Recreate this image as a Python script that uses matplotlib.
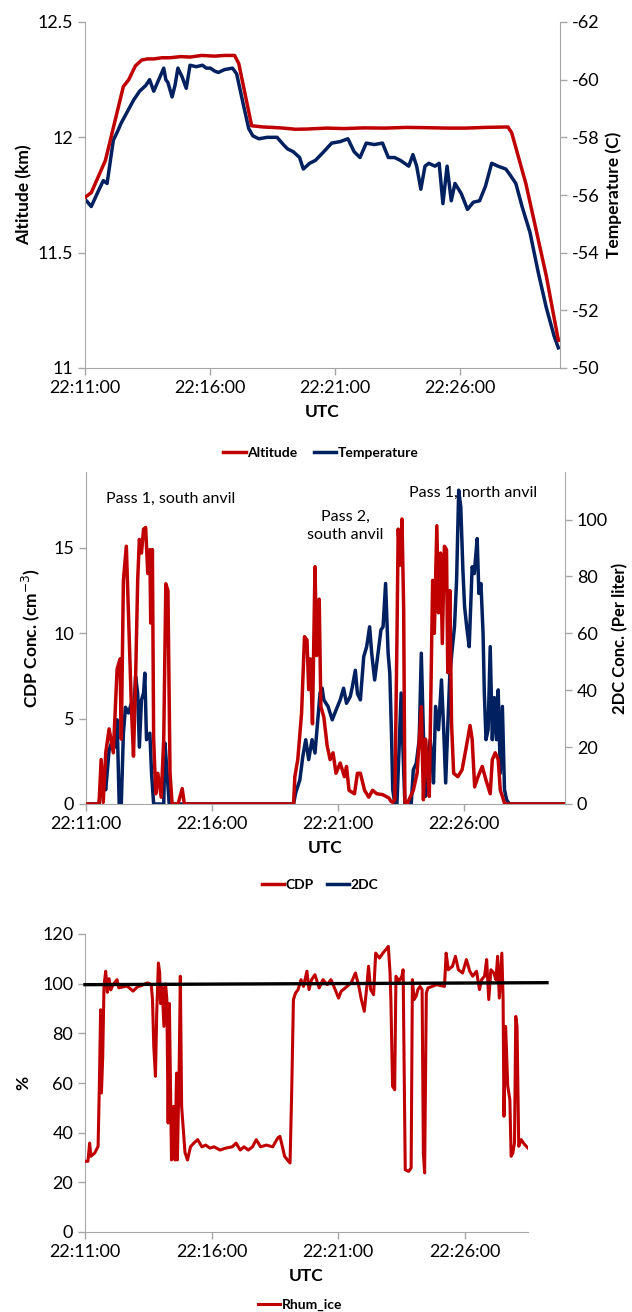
import matplotlib
matplotlib.use("Agg")
import matplotlib.pyplot as plt
import numpy as np

plt.rcParams['font.family'] = ['Lato', 'DejaVu Sans']
plt.rcParams['axes.unicode_minus'] = False

RED = '#C00000'
NAVY = '#002060'
GRID = '#A6A6A6'

# ---- time axis (seconds after 22:11:00) ----
tick_secs = [0, 300, 600, 900]
tick_labels = ['22:11:00', '22:16:00', '22:21:00', '22:26:00']

# ---- panel 1: altitude and temperature ----
alt_t = [0, 15, 49, 92, 105, 121, 136, 150, 165, 185, 204, 230, 252, 280, 311, 335, 359,
         369, 400, 412, 427, 450, 476, 505, 534, 580, 621, 670, 719, 770, 816, 870, 913,
         960, 1015, 1024, 1058, 1107, 1136, 1141]
alt_km = [11.74, 11.76, 11.90, 12.22, 12.25, 12.31, 12.335, 12.34, 12.34, 12.345, 12.345,
          12.35, 12.348, 12.355, 12.352, 12.355, 12.355,
          12.32, 12.05, 12.048, 12.045, 12.043, 12.04, 12.035, 12.036, 12.04, 12.038, 12.041,
          12.04, 12.043, 12.042, 12.04, 12.04, 12.043, 12.045, 12.02, 11.80, 11.40, 11.12, 11.12]

temp_t = [0, 15, 34, 44, 53, 68, 78, 87, 102, 117, 131, 146, 155, 165, 180, 189, 194, 199,
          209, 216, 223, 233, 243, 252, 267, 282, 291, 301, 311, 320, 335, 354, 364, 379,
          393, 403, 417, 437, 461, 476, 486, 500, 515, 524, 539, 553, 573, 592, 612, 631,
          646, 660, 675, 694, 714, 728, 743, 757, 777, 787, 796, 806, 816, 825, 840, 850,
          859, 869, 879, 888, 903, 918, 932, 947, 961, 976, 991, 1010, 1020, 1034, 1049,
          1068, 1088, 1107, 1126, 1136]
temp_c = [-55.86, -55.6, -56.2, -56.5, -56.4, -57.9, -58.2, -58.5, -58.9, -59.3, -59.6,
          -59.8, -60.0, -59.6, -60.1, -60.4, -60.0, -59.9, -59.4, -59.8, -60.4, -60.1,
          -59.7, -60.5, -60.45, -60.5, -60.4, -60.4, -60.3, -60.25, -60.35, -60.4, -60.2,
          -59.2, -58.3, -58.05, -57.95, -58.0, -58.0, -57.75, -57.6, -57.5, -57.3, -56.9,
          -57.1, -57.2, -57.5, -57.8, -57.85, -57.95, -57.5, -57.3, -57.8, -57.75, -57.8,
          -57.3, -57.3, -57.2, -57.0, -57.4, -57.0, -56.2, -57.0, -57.1, -57.0, -57.1,
          -55.7, -57.0, -55.8, -56.4, -56.05, -55.5, -55.75, -55.8, -56.3, -57.1, -57.0,
          -56.9, -56.7, -56.4, -55.6, -54.7, -53.3, -52.1, -51.1, -50.7]

# ---- panel 2: CDP and 2DC concentrations ----
cdp_t = [0, 31, 36, 41, 47, 55, 65, 74, 81, 84, 89, 96, 101, 108, 113, 118, 123, 127, 132,
         137, 142, 147, 152, 154, 158, 161, 166, 171, 179, 185, 190, 195, 200, 205, 219,
         229, 234, 494, 497, 504, 513, 520, 526, 530, 534, 539, 545, 549, 555, 559, 566,
         574, 581, 588, 595, 605, 615, 620, 626, 639, 646, 653, 663, 673, 682, 692, 706,
         721, 726, 730, 735, 740, 743, 748, 752, 756, 759, 764, 779, 788, 798, 803, 808,
         813, 817, 825, 829, 835, 839, 844, 848, 853, 858, 861, 866, 870, 875, 885, 895,
         904, 914, 919, 925, 933, 943, 952, 962, 967, 974, 981, 986, 991, 996, 1001, 1141]
cdp_conc = [0, 0, 2.6, 0.1, 3.0, 4.4, 3.0, 7.9, 8.5, 3.8, 13.1, 15.1, 11.2, 5.7, 2.8, 7.3,
            13.1, 15.5, 14.7, 16.1, 16.2, 13.5, 14.9, 10.6, 14.9, 3.8, 0.6, 1.8, 0.4, 3.8,
            12.9, 12.5, 1.8, 0, 0, 0.9, 0, 0, 1.6, 2.6, 5.3, 9.8, 9.6, 6.7, 8.5, 4.7, 13.9,
            8.7, 12.0, 5.7, 5.1, 3.4, 2.6, 3.0, 1.8, 2.4, 1.6, 2.2, 0.8, 0.6, 1.8, 1.8, 0.8,
            0.4, 0.8, 0.6, 0.55, 0.35, 0.15, 0.1, 0.25, 9.6, 16.1, 14.0, 16.7, 11.5, 0.1,
            0, 0.8, 1.8, 5.7, 0.25, 3.8, 1.8, 0.45, 13.1, 10.0, 16.3, 11.2, 14.7, 9.4, 15.1,
            14.9, 7.7, 12.5, 4.7, 1.8, 1.6, 2.0, 3.2, 4.6, 3.8, 1.0, 1.6, 2.2, 1.4, 0.6,
            2.6, 3.0, 2.6, 0.8, 0.45, 0.05, 0, 0]

p2dc_t = [0, 31, 36, 41, 47, 55, 63, 69, 74, 79, 84, 89, 94, 101, 108, 113, 118, 123, 127,
          132, 137, 140, 144, 152, 156, 161, 185, 188, 193, 198, 494, 499, 509, 516, 523,
          530, 538, 545, 549, 557, 562, 566, 576, 586, 595, 605, 613, 620, 629, 634, 641,
          646, 653, 661, 668, 675, 680, 687, 694, 702, 707, 713, 719, 723, 727, 730, 735,
          740, 745, 750, 756, 759, 774, 779, 786, 793, 798, 803, 808, 813, 819, 823, 827,
          832, 839, 846, 851, 856, 861, 866, 873, 877, 882, 887, 892, 897, 901, 906, 912,
          919, 924, 928, 931, 935, 940, 945, 948, 952, 957, 962, 967, 972, 977, 981, 986,
          991, 996, 1001, 1008, 1141]
p2dc_conc = [0, 0, 6.2, 8.5, 5.0, 19, 22.6, 20, 29.6, 0, 0, 24.9, 34, 32, 35.4, 30.7,
             44.8, 39, 20, 36.6, 39, 46, 22.6, 24.9, 10.8, 0, 0, 21.4, 10.8, 0, 0, 3.9, 8.5,
             16.7, 22.6, 15.6, 22.6, 17.9, 24.9, 39, 40.7, 36.6, 34.3, 29.6, 33, 36.6, 40.7,
             35.4, 37.8, 41.3, 47, 38.8, 36.6, 51.8, 55.3, 62.3, 52.9, 43.6, 51.8, 61.2,
             62.3, 77.5, 53, 46, 24.9, 5, 0, 0, 19, 39, 12, 0, 0, 12, 14.3, 22.6, 53, 24.9,
             2.7, 16.7, 22.6, 16.7, 7.4, 34.3, 26.1, 43.6, 27.2, 7.4, 27.2, 46, 56.5, 62.3,
             78.7, 110.3, 104.4, 82.2, 69.4, 62.3, 55.3, 83.4, 81, 88, 93.3, 74, 77.5, 60,
             39, 22.6, 26.1, 55.3, 22.6, 37.4, 22.6, 40.1, 10.8, 34.3, 5, 1.5, 0, 0]

pass_labels = ['Pass 1, south anvil', 'Pass 2,\nsouth anvil', 'Pass 1, north anvil']
pass_t = [202, 618, 921]
pass_cdp = [17.9, 16.3, 18.2]

# ---- panel 3: relative humidity with respect to ice ----
rh_t = [0, 7, 11, 14, 23, 31, 34, 37, 39, 42, 45, 49, 53, 57, 61, 66, 76, 80, 90, 100,
        114, 124, 133, 148, 157, 160, 163, 167, 170, 174, 177, 179, 183, 187, 191, 194,
        197, 200, 205, 210, 213, 217, 219, 223, 226, 229, 233, 237, 243, 250, 258, 267,
        277, 286, 296, 306, 320, 334, 349, 358, 368, 377, 387, 397, 406, 416, 430, 445,
        457, 462, 468, 473, 480, 486, 490, 494, 499, 505, 512, 518, 526, 531, 537, 545,
        555, 564, 574, 583, 593, 601, 607, 617, 631, 641, 649, 655, 662, 668, 672, 677,
        684, 689, 698, 706, 713, 719, 723, 725, 729, 734, 737, 744, 751, 754, 756, 759,
        767, 773, 776, 780, 785, 789, 794, 799, 802, 805, 809, 813, 823, 833, 844, 852,
        856, 861, 871, 878, 885, 895, 904, 912, 919, 928, 935, 940, 947, 952, 957, 962,
        969, 974, 978, 982, 988, 991, 993, 997, 1002, 1007, 1010, 1014, 1018, 1021, 1024,
        1028, 1034, 1041, 1050]
rh_ice = [28.5, 28.5, 35.8, 30.5, 31.8, 34.5, 58.7, 89.5, 56, 70.7, 99, 105, 96.5, 102,
          97.5, 99.5, 101.6, 98.3, 98.7, 99, 97, 98.7, 99.2, 100.3, 99.6, 93.6, 74.8, 62.7,
          88.2, 108.3, 104.3, 92, 98.7, 82.8, 99.9, 93.6, 43.9, 92, 29, 50.6, 29, 64, 29,
          64, 103, 50.6, 41.3, 32, 29, 34.3, 35.8, 37.2, 34.3, 35, 33.8, 34.3, 33, 33.8,
          34.3, 35.8, 33, 34.3, 33, 34.3, 37.2, 34.3, 35, 34.3, 37.9, 38.5, 34.3, 30.5, 29,
          27.8, 57.3, 93.6, 96.2, 97.6, 101.6, 98.9, 105, 97.6, 101.6, 103.6, 98.3, 101.6,
          99.6, 101.6, 97.6, 94.2, 96.9, 98.3, 100.3, 104.3, 99, 93.6, 88.9, 99, 107, 97.6,
          95.6, 112.3, 110.3, 112.3, 113.7, 115, 104.3, 93.6, 58.7, 57.3, 103, 101, 103,
          105.6, 73.4, 25.1, 24.4, 25.8, 101.6, 93.6, 95, 97.6, 98.9, 97.6, 31.8, 23.8,
          96.2, 98.3, 98.9, 99.6, 99.2, 98.9, 112.3, 105.6, 107, 111, 105.6, 104.3, 109.7,
          105, 103, 105, 97.6, 101.6, 103, 109.7, 93.6, 105.6, 104.3, 101.6, 111, 94.2,
          112.3, 93.6, 46.6, 82.8, 58.7, 53.3, 30.5, 31.8, 35.8, 86.8, 82.8, 34.5, 37.2,
          35.4, 33.8]
sat_t = [0, 1095]
sat_rh = [99.6, 100.4]

W, H = 632, 1312
fig = plt.figure(figsize=(W / 100, H / 100), dpi=100)


def px_axes(left, top, right, bottom):
    return fig.add_axes([left / W, 1 - bottom / H, (right - left) / W, (bottom - top) / H])


def style(ax, right=False):
    for s in ['top', 'right', 'left', 'bottom']:
        ax.spines[s].set_visible(False)
    ax.spines['bottom'].set_visible(True)
    ax.spines['bottom'].set_color(GRID)
    side = 'right' if right else 'left'
    ax.spines[side].set_visible(True)
    ax.spines[side].set_color(GRID)
    ax.tick_params(axis='both', colors=GRID, labelcolor='black', labelsize=13,
                   direction='out', length=5, width=1)


def seconds(ts):
    return np.asarray(ts, dtype=float)


LAB_FS = 12.5
LW = 2.5

# Panel 1
ax1 = px_axes(85, 22, 560, 368)
ax1.plot(seconds(alt_t), alt_km, color=RED, lw=LW, label='Altitude', zorder=3)
ax1.set_xlim(0, 1140)
ax1.set_ylim(11, 12.5)
ax1.set_yticks([11, 11.5, 12, 12.5])
ax1.set_yticklabels(['11', '11.5', '12', '12.5'])
ax1.set_xticks(tick_secs)
ax1.set_xticklabels(tick_labels)
style(ax1)
ax1.set_ylabel('Altitude (km)', fontsize=LAB_FS, fontweight='bold', labelpad=4)
ax1.set_xlabel('UTC', fontsize=LAB_FS, fontweight='bold', labelpad=6)
ax1b = ax1.twinx()
ax1b.plot(seconds(temp_t), temp_c, color=NAVY, lw=LW, label='Temperature', zorder=3)
ax1b.set_ylim(-50, -62)
ax1b.set_yticks([-50, -52, -54, -56, -58, -60, -62])
style(ax1b, right=True)
ax1b.spines['bottom'].set_visible(False)
ax1b.set_ylabel('Temperature (C)', fontsize=LAB_FS, fontweight='bold', labelpad=4)
ax1.set_zorder(ax1b.get_zorder() + 1)
ax1.patch.set_visible(False)
h1 = ax1.get_lines() + ax1b.get_lines()
fig.legend(h1, [l.get_label() for l in h1], loc='center', bbox_to_anchor=(321 / W, 1 - 453 / H),
           ncol=2, frameon=False, prop={'weight': 'bold', 'size': 10}, handlelength=1.6,
           handletextpad=0.1, columnspacing=1.2)

# Panel 2
ax2 = px_axes(86, 472, 565, 804)
ax2.plot(seconds(cdp_t), cdp_conc, color=RED, lw=LW, label='CDP', zorder=3)
ax2.set_xlim(0, 1140)
ax2.set_ylim(0, 19.45)
ax2.set_yticks([0, 5, 10, 15])
ax2.set_xticks(tick_secs)
ax2.set_xticklabels(tick_labels)
style(ax2)
ax2.set_ylabel('CDP Conc. (cm$^{-3}$)', fontsize=LAB_FS, fontweight='bold', labelpad=8)
ax2.set_xlabel('UTC', fontsize=LAB_FS, fontweight='bold', labelpad=6)
ax2b = ax2.twinx()
ax2b.plot(seconds(p2dc_t), p2dc_conc, color=NAVY, lw=LW, label='2DC', zorder=2)
ax2b.set_ylim(0, 116.7)
ax2b.set_yticks([0, 20, 40, 60, 80, 100])
style(ax2b, right=True)
ax2b.spines['bottom'].set_visible(False)
ax2b.set_ylabel('2DC Conc. (Per liter)', fontsize=12, fontweight='bold', labelpad=3)
ax2.set_zorder(ax2b.get_zorder() + 1)
ax2.patch.set_visible(False)
for txt, tx, ty in zip(pass_labels, pass_t, pass_cdp):
    ax2.text(tx, ty, txt, ha='center', va='center', fontsize=11.5, linespacing=1.35)
h2 = ax2.get_lines() + ax2b.get_lines()
fig.legend(h2, [l.get_label() for l in h2], loc='center', bbox_to_anchor=(320 / W, 1 - 885 / H),
           ncol=2, frameon=False, prop={'weight': 'bold', 'size': 10}, handlelength=1.6,
           handletextpad=0.1, columnspacing=1.0)

# Panel 3
ax3 = px_axes(85, 934, 528, 1232)
ax3.plot(seconds(rh_t), rh_ice, color=RED, lw=2.2, label='Rhum_ice', zorder=3)
ax3.plot(seconds(sat_t), sat_rh, color='black', lw=2.4, zorder=4, clip_on=False)
ax3.set_xlim(0, 1050)
ax3.set_ylim(0, 120)
ax3.set_yticks(range(0, 121, 20))
ax3.set_xticks(tick_secs)
ax3.set_xticklabels(tick_labels)
style(ax3)
ax3.set_ylabel('%', fontsize=LAB_FS, fontweight='bold', labelpad=8)
ax3.set_xlabel('UTC', fontsize=LAB_FS, fontweight='bold', labelpad=6)
h3 = ax3.get_lines()[:1]
fig.legend(h3, ['Rhum_ice'], loc='center', bbox_to_anchor=(300 / W, 1 - 1305 / H),
           ncol=1, frameon=False, prop={'weight': 'bold', 'size': 10}, handlelength=1.6,
           handletextpad=0.1)

fig.savefig('out.png', dpi=100, facecolor='white')
